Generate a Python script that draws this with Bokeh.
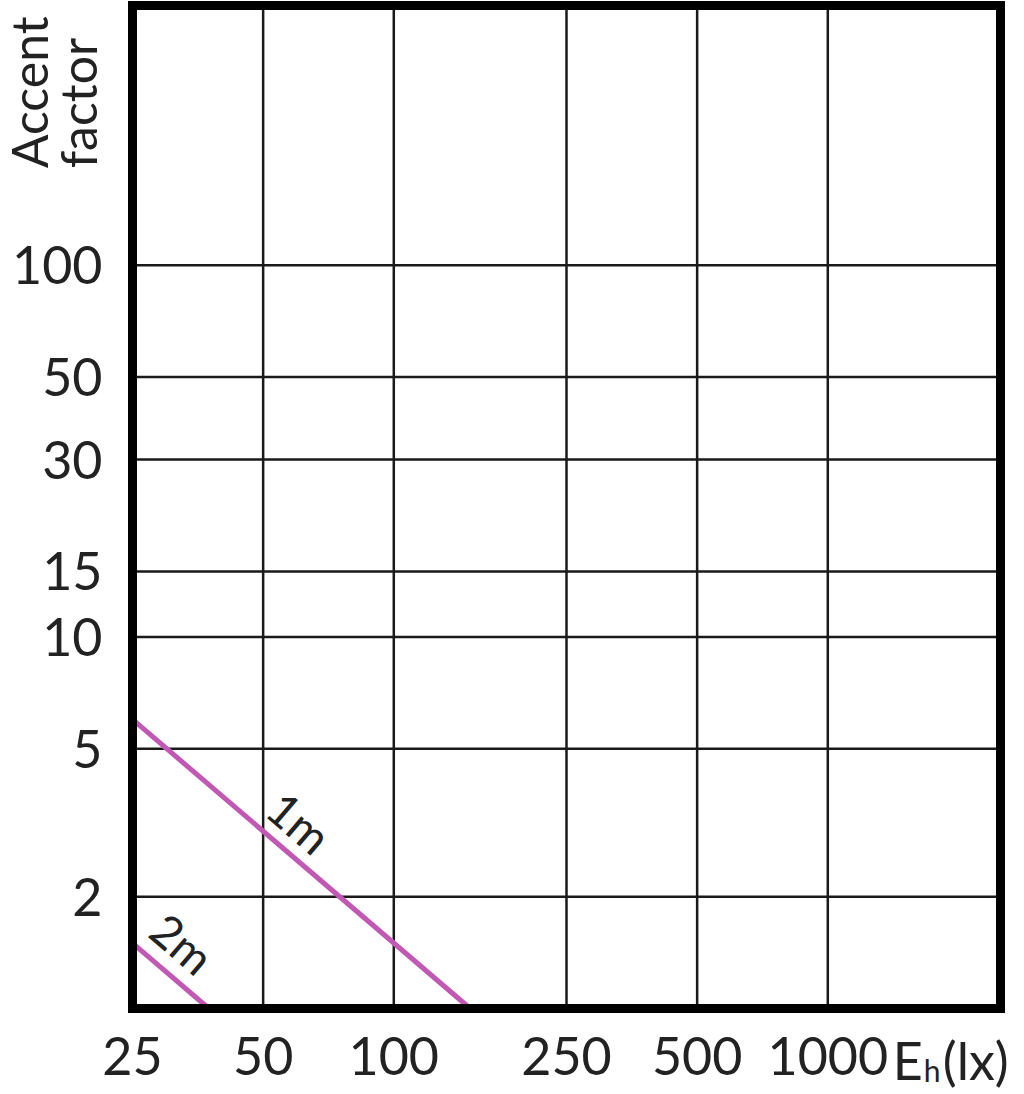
import math
from bokeh.plotting import figure
from bokeh.models import Range1d, FixedTicker, NumeralTickFormatter, Label
from bokeh.embed import file_html
from bokeh.resources import INLINE

# ---- data ----
x_ticks = [25, 50, 100, 250, 500, 1000]
y_ticks = [2, 5, 10, 15, 30, 50, 100]
x_min, x_max = 25, 2500
y_min, y_max = 1, 500
x_1m = [25, 150]
y_1m = [6, 1]
x_2m = [25, 37.5]
y_2m = [1.5, 1]
series_labels = ["1m", "2m"]
y_title = ["Accent", "factor"]
x_unit = ["E", "h", "(lx)"]

FONT = "Lato"
MAGENTA = "#c058b4"
TXT = "#222222"

# ---- layout (canvas pixels of the chart box) ----
W, H = 1020, 1090
BL, BR, BT, BB = 132, 1000, 5, 1008
xdec = (BR - BL) / math.log10(x_max / x_min)
ydec = (BB - BT) / math.log10(y_max / y_min)
xr = Range1d(x_min / 10 ** (BL / xdec), x_max * 10 ** ((W - BR) / xdec))
yr = Range1d(y_min / 10 ** ((H - BB) / ydec), y_max * 10 ** (BT / ydec))

p = figure(width=W, height=H, x_axis_type="log", y_axis_type="log",
           x_range=xr, y_range=yr, output_backend="svg", toolbar_location=None,
           min_border_left=0, min_border_right=0, min_border_top=0, min_border_bottom=0)
p.outline_line_color = None
p.xgrid.visible = False
p.ygrid.visible = False

for ax in (p.xaxis, p.yaxis):
    ax.axis_line_color = None
    ax.major_tick_line_color = None
    ax.minor_tick_line_color = None
    ax.major_label_text_font = FONT
    ax.major_label_text_font_size = "52px"
    ax.major_label_text_color = TXT
    ax.formatter = NumeralTickFormatter(format="0")

p.xaxis.ticker = FixedTicker(ticks=x_ticks, minor_ticks=[])
p.yaxis.ticker = FixedTicker(ticks=y_ticks, minor_ticks=[])
p.xaxis.fixed_location = y_min
p.yaxis.fixed_location = x_min
p.xaxis.major_label_standoff = 22
p.yaxis.major_label_standoff = 24

# grid lines inside the box
gx = [t for t in x_ticks if t != x_min]
p.segment(x0=gx, y0=[y_min] * len(gx), x1=gx, y1=[y_max] * len(gx),
          line_color="#1a1a1a", line_width=2.5)
p.segment(x0=[x_min] * len(y_ticks), y0=y_ticks, x1=[x_max] * len(y_ticks), y1=y_ticks,
          line_color="#1a1a1a", line_width=2.5)

# series
p.line(x_1m, y_1m, line_color=MAGENTA, line_width=5)
p.line(x_2m, y_2m, line_color=MAGENTA, line_width=5)

# thick box
p.quad(left=[x_min], right=[x_max], bottom=[y_min], top=[y_max],
       fill_color=None, line_color="black", line_width=9, line_join="miter")

ang = -math.degrees(math.atan(ydec / xdec))
p.add_layout(Label(x=50, y=150 / 50, text=series_labels[0], angle=ang, angle_units="deg",
                   text_font=FONT, text_font_size="47px", text_color=TXT,
                   text_align="left", text_baseline="bottom", x_offset=-7, y_offset=9))
p.add_layout(Label(x=26, y=37.5 / 26, text=series_labels[1], angle=ang, angle_units="deg",
                   text_font=FONT, text_font_size="46px", text_color=TXT,
                   text_align="left", text_baseline="bottom", x_offset=0, y_offset=6))

# y axis title (two rotated lines)
p.add_layout(Label(x=x_min, y=100, text=y_title[0], angle=90, angle_units="deg",
                   text_font=FONT, text_font_size="50px", text_color=TXT,
                   text_align="left", text_baseline="alphabetic",
                   x_offset=-104, y_offset=97))
p.add_layout(Label(x=x_min, y=100, text=y_title[1], angle=90, angle_units="deg",
                   text_font=FONT, text_font_size="50px", text_color=TXT,
                   text_align="left", text_baseline="alphabetic",
                   x_offset=-55, y_offset=97))

# x axis unit label
p.add_layout(Label(x=1000, y=y_min, text=x_unit[0], text_font=FONT, text_font_size="52px",
                   text_color=TXT, text_align="left", text_baseline="alphabetic",
                   x_offset=65, y_offset=-51))
p.add_layout(Label(x=1000, y=y_min, text=x_unit[1], text_font=FONT, text_font_size="30px",
                   text_color=TXT, text_align="left", text_baseline="alphabetic",
                   x_offset=96, y_offset=-61))
p.add_layout(Label(x=1000, y=y_min, text=x_unit[2], text_font=FONT, text_font_size="52px",
                   text_color=TXT, text_align="left", text_baseline="alphabetic",
                   x_offset=115, y_offset=-51))

open("out.html", "w").write(file_html(p, INLINE))
